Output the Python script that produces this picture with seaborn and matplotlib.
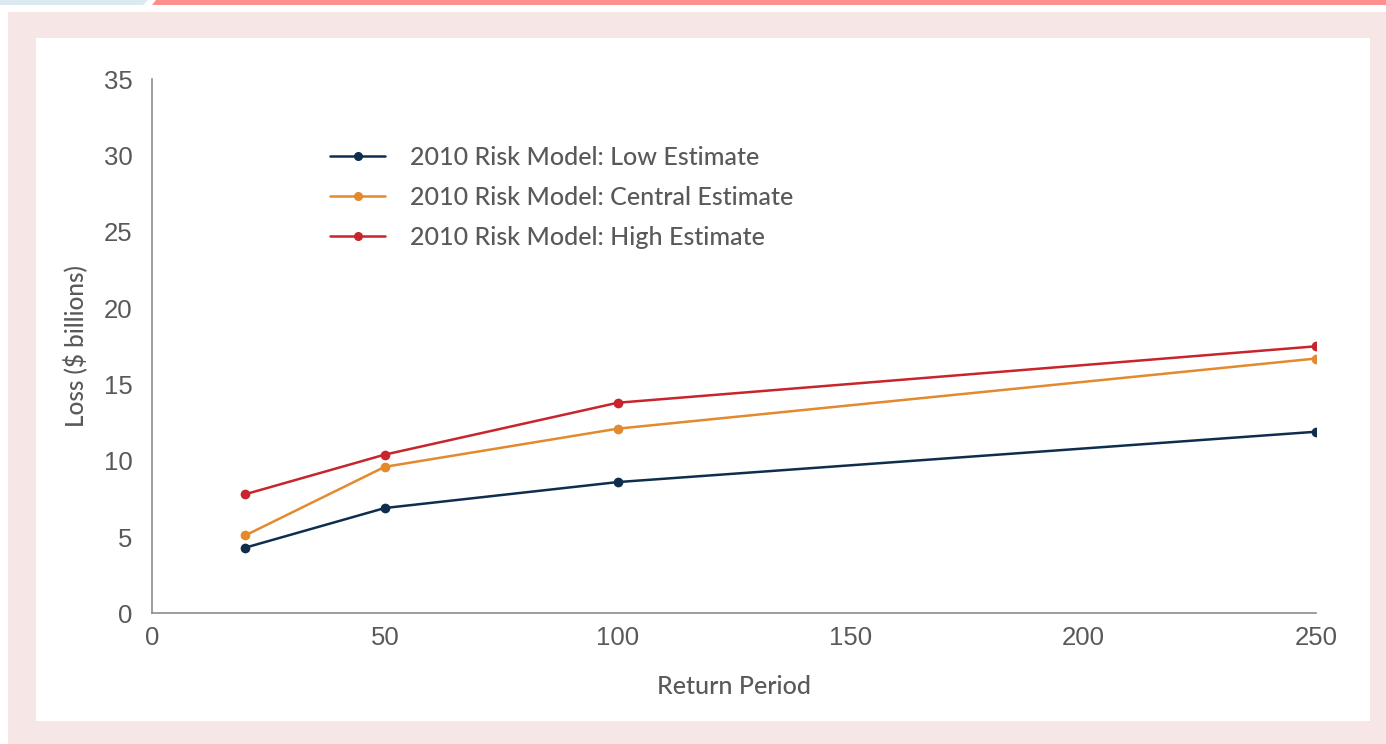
import matplotlib
matplotlib.use("Agg")
import matplotlib.pyplot as plt
from matplotlib.patches import Rectangle, Polygon
import seaborn as sns
import pandas as pd

# Return periods (years) and modelled losses ($ billions)
return_periods = [20, 50, 100, 250]
low_estimate = [4.3, 6.9, 8.6, 11.9]
central_estimate = [5.1, 9.6, 12.1, 16.7]
high_estimate = [7.8, 10.4, 13.8, 17.5]

series_names = [
    "2010 Risk Model: Low Estimate",
    "2010 Risk Model: Central Estimate",
    "2010 Risk Model: High Estimate",
]
series_colors = ["#0f2e4e", "#e3892e", "#c8242b"]

x_ticks = [0, 50, 100, 150, 200, 250]
y_ticks = [0, 5, 10, 15, 20, 25, 30, 35]

rows = []
for name, values in zip(series_names, [low_estimate, central_estimate, high_estimate]):
    for rp, v in zip(return_periods, values):
        rows.append({"Return Period": rp, "Loss": v, "Series": name})
df = pd.DataFrame(rows)

sns.set_theme(style="white")
plt.rcParams["font.family"] = ["Liberation Sans", "DejaVu Sans"]

W, H = 1386, 744
fig = plt.figure(figsize=(W / 100, H / 100), dpi=100)
fig.patch.set_facecolor("white")


def px_rect(x0, y0, x1, y1, color):
    fig.patches.append(Rectangle((x0 / W, 1 - y1 / H), (x1 - x0) / W, (y1 - y0) / H,
                                 transform=fig.transFigure, facecolor=color,
                                 edgecolor="none", zorder=-10))


# page framing: top accent strips, pink surround, white card
fig.patches.append(Polygon([(0, 1), (148 / W, 1), (143 / W, 1 - 5 / H), (0, 1 - 5 / H)],
                           closed=True, transform=fig.transFigure,
                           facecolor="#dde9f1", edgecolor="none", zorder=-10))
fig.patches.append(Polygon([(156 / W, 1), (1, 1), (1, 1 - 5 / H), (152 / W, 1 - 5 / H)],
                           closed=True, transform=fig.transFigure,
                           facecolor="#ff8f8f", edgecolor="none", zorder=-10))
px_rect(8, 12, W, H, "#f6e7e6")
px_rect(36, 38, 1370, 721, "white")

ax = fig.add_axes([152 / W, 1 - 613.3 / H, 1164 / W, 534 / H])
ax.set_facecolor("none")
ax.set_zorder(5)

sns.lineplot(data=df, x="Return Period", y="Loss", hue="Series",
             palette=series_colors, hue_order=series_names,
             marker="o", markersize=7, markeredgewidth=0, linewidth=1.8,
             ax=ax, legend=False)

ax.set_xlim(0, 250)
ax.set_ylim(0, 35)
ax.set_xticks(x_ticks)
ax.set_yticks(y_ticks)
ax.tick_params(axis="both", length=0, labelsize=18.5, labelcolor="#595959")
ax.tick_params(axis="x", pad=9)
ax.tick_params(axis="y", pad=14)

for side in ["top", "right"]:
    ax.spines[side].set_visible(False)
for side in ["left", "bottom"]:
    ax.spines[side].set_color("#8c8c8c")
    ax.spines[side].set_linewidth(1.2)

ax.set_xlabel("Return Period", labelpad=18, weight=500,
              family=["Lato", "DejaVu Sans"], size=18, color="#595959")
ax.set_ylabel("Loss ($ billions)", labelpad=12, weight=500,
              family=["Lato", "DejaVu Sans"], size=17.5, color="#595959")

handles = [plt.Line2D([], [], color=c, marker="o", markersize=5.5, linewidth=1.8)
           for c in series_colors]
leg = ax.legend(handles, series_names, loc="upper left",
                bbox_to_anchor=((330 - 152) / 1164, (613.3 - 146) / 534),
                frameon=False, borderpad=0, borderaxespad=0,
                handlelength=2.2, handletextpad=1.0, labelspacing=0.68,
                prop={"family": ["Lato", "DejaVu Sans"], "size": 18, "weight": 500})
for t in leg.get_texts():
    t.set_color("#595959")

fig.savefig("out.png", dpi=100, facecolor=fig.get_facecolor())
